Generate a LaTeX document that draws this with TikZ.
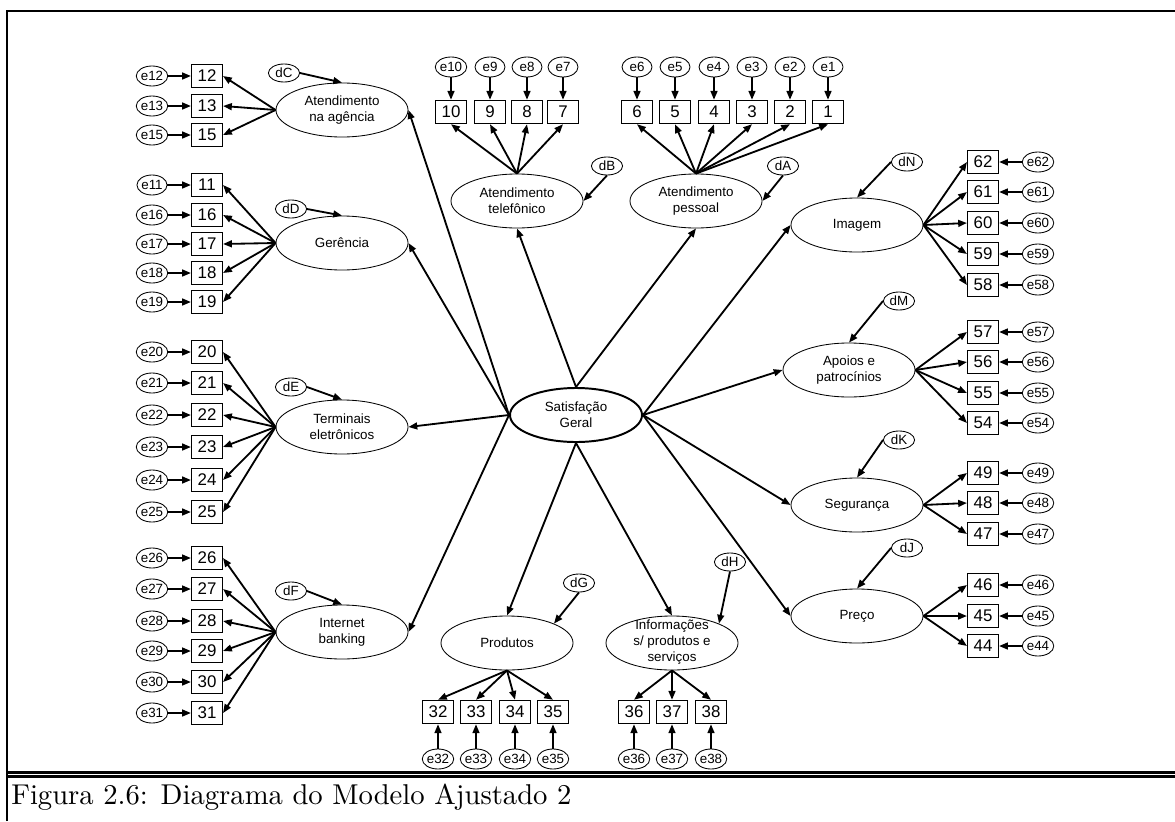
\documentclass[tikz,border=0pt]{standalone}
\usepackage{fontspec}
\newfontfamily\arial{Liberation Sans}
\usetikzlibrary{shapes.geometric,arrows.meta}

\tikzset{
  lat/.style={ellipse, draw, line width=0.6pt, minimum width=3.3cm, minimum height=1.35cm,
    inner sep=0pt, align=center, font=\arial\fontsize{9.5}{11.4}\selectfont},
  obs/.style={rectangle, draw, line width=0.9pt, minimum width=0.77cm, minimum height=0.58cm,
    inner sep=0pt, font=\arial\fontsize{12}{14}\selectfont},
  err/.style={ellipse, draw, line width=0.6pt, minimum width=0.75cm, minimum height=0.5cm,
    inner sep=0pt, font=\arial\fontsize{9.5}{10}\selectfont},
  dist/.style={ellipse, draw, line width=0.6pt, minimum width=0.78cm, minimum height=0.45cm,
    inner sep=0pt, font=\arial\fontsize{9.5}{10}\selectfont},
  arr/.style={line width=1.3pt, -{Triangle[length=2.2mm,width=1.7mm]}},
}

\begin{document}
\begin{tikzpicture}[x=0.025cm, y=-0.025cm]
    \useasboundingbox (0,0) rectangle (1175,821);

    % frame and caption
    \draw[line width=0.9pt] (7,821) -- (7,11) -- (1175,11);
    \draw[line width=1.5pt] (7,772.5) -- (1175,772.5);
    \draw[line width=1.5pt] (7,776.5) -- (1175,776.5);
    \node[anchor=base west, inner sep=0pt] (cap) at (11,804)
        {\resizebox{14cm}{!}{Figura 2.6: Diagrama do Modelo Ajustado 2}};

    % latent variables
    \node[lat, line width=1.4pt] (sat) at (576,415) {Satisfação\\Geral};
    \node[lat] (agen) at (342,110) {Atendimento\\na agência};
    \node[lat] (ger) at (342,243) {Gerência};
    \node[lat] (term) at (342,427) {Terminais\\eletrônicos};
    \node[lat] (inet) at (342,632) {Internet\\banking};
    \node[lat] (tel) at (517,201) {Atendimento\\telefônico};
    \node[lat] (pes) at (696,201) {Atendimento\\pessoal};
    \node[lat] (img) at (857,225) {Imagem};
    \node[lat] (apo) at (849,370) {Apoios e\\patrocínios};
    \node[lat] (seg) at (857,505) {Segurança};
    \node[lat] (pre) at (857,616) {Preço};
    \node[lat] (prod) at (507,643) {Produtos};
    \node[lat] (info) at (672,643) {\raisebox{-2pt}[0pt][0pt]{\begin{tabular}{@{}c@{}}Informações\\s/ produtos e\\serviços\end{tabular}}};

    % disturbances
    \node[dist] (dC) at (284,73) {dC};
    \node[dist] (dD) at (291,209) {dD};
    \node[dist] (dE) at (291,387) {dE};
    \node[dist] (dF) at (291,591) {dF};
    \node[dist] (dB) at (607,166) {dB};
    \node[dist] (dA) at (783,166) {dA};
    \node[dist] (dN) at (907,162) {dN};
    \node[dist] (dM) at (899,301) {dM};
    \node[dist] (dK) at (899,440) {dK};
    \node[dist] (dJ) at (907,548) {dJ};
    \node[dist] (dG) at (579,583) {dG};
    \node[dist] (dH) at (730,562) {dH};

    \draw[arr] (dC.east) -- (agen.north);
    \draw[arr] (dD.east) -- (ger.north);
    \draw[arr] (dE.east) -- (term.north);
    \draw[arr] (dF.east) -- (inet.north);
    \draw[arr] (dB.south) -- (tel.east);
    \draw[arr] (dA.south) -- (pes.east);
    \draw[arr] (dN.west) -- (img.north);
    \draw[arr] (dM.west) -- (apo.north);
    \draw[arr] (dK.west) -- (seg.north);
    \draw[arr] (dJ.west) -- (pre.north);
    \draw[arr] (dG.south) -- (prod.north east);
    \draw[arr] (dH.south) -- (info.north east);

    % structural paths
    \foreach \t in {agen,ger,term,inet}
        \draw[arr] (sat.west) -- (\t.east);
    \foreach \t in {tel,pes}
        \draw[arr] (sat.north) -- (\t.south);
    \foreach \t in {img,apo,seg,pre}
        \draw[arr] (sat.east) -- (\t.west);
    \foreach \t in {prod,info}
        \draw[arr] (sat.south) -- (\t.north);

    % indicators, left
    \foreach \n/\y/\f in {12/76/agen,13/106/agen,15/135/agen,
                          11/185/ger,16/215/ger,17/244/ger,18/273/ger,19/302/ger,
                          20/352/term,21/383/term,22/415/term,23/447/term,24/480/term,25/512/term,
                          26/558/inet,27/589/inet,28/621/inet,29/651/inet,30/682/inet,31/713/inet} {
        \node[obs] (b\n) at (207,\y) {\n};
        \node[err] (e\n) at (152,\y) {e\n};
        \draw[arr] (e\n) -- (b\n);
        \draw[arr] (\f.west) -- (b\n.east);
    }

    % indicators, top
    \foreach \n/\x/\f in {10/451/tel,9/490/tel,8/527/tel,7/563/tel,
                          6/637/pes,5/675/pes,4/714/pes,3/752/pes,2/790/pes,1/828/pes} {
        \node[obs] (b\n) at (\x,112) {\n};
        \node[err] (e\n) at (\x,67) {e\n};
        \draw[arr] (e\n) -- (b\n);
        \draw[arr] (\f.north) -- (b\n.south);
    }

    % indicators, right
    \foreach \n/\y/\f in {62/162/img,61/192/img,60/223/img,59/254/img,58/285/img,
                          57/332/apo,56/362/apo,55/393/apo,54/423/apo,
                          49/473/seg,48/503/seg,47/534/seg,
                          46/585/pre,45/616/pre,44/646/pre} {
        \node[obs] (b\n) at (983,\y) {\n};
        \node[err] (e\n) at (1038,\y) {e\n};
        \draw[arr] (e\n) -- (b\n);
        \draw[arr] (\f.east) -- (b\n.west);
    }

    % indicators, bottom
    \foreach \n/\x/\f in {32/438/prod,33/476/prod,34/515/prod,35/553/prod,
                          36/634/info,37/672/info,38/711/info} {
        \node[obs] (b\n) at (\x,712) {\n};
        \node[err] (e\n) at (\x,759) {e\n};
        \draw[arr] (e\n) -- (b\n);
        \draw[arr] (\f.south) -- (b\n.north);
    }
\end{tikzpicture}
\end{document}
